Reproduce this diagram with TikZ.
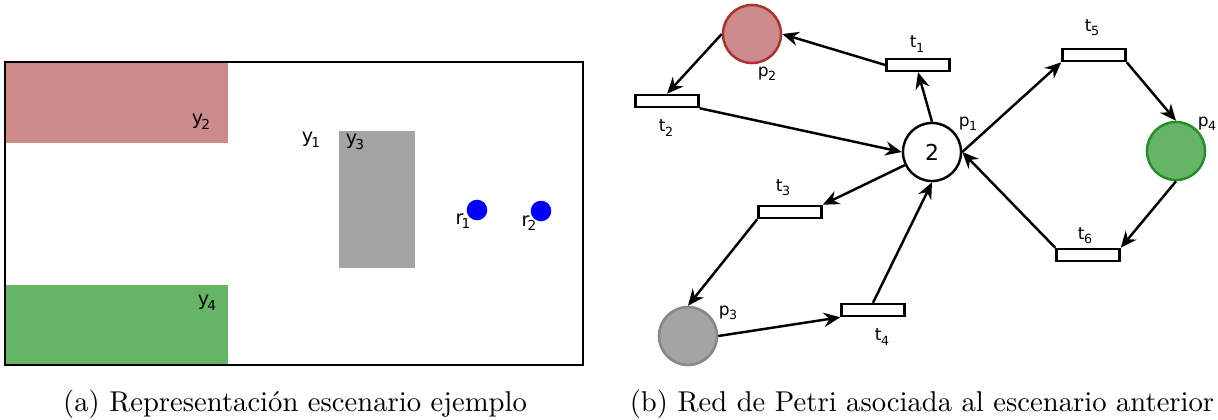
\documentclass[tikz,border=0pt]{standalone}
\usepackage{fontspec}
\newfontfamily\lblfont{DejaVu Sans}
\usetikzlibrary{arrows.meta}
\definecolor{pinkf}{RGB}{204,138,138}
\definecolor{pinkd}{RGB}{170,50,50}
\definecolor{greenf}{RGB}{102,180,102}
\definecolor{greend}{RGB}{40,140,40}
\definecolor{grayf}{RGB}{164,164,164}
\definecolor{grayd}{RGB}{136,136,136}
\definecolor{bluef}{RGB}{0,0,255}
\newcommand\sublbl[2]{{\lblfont\fontsize{6.2}{7}\selectfont #1\kern-0.2pt\raisebox{-0.45ex}{\fontsize{4.6}{5}\selectfont #2}}}
\newcommand\ylbl[2]{{\lblfont\fontsize{7}{8}\selectfont #1\kern-0.7pt\raisebox{-0.45ex}{\fontsize{5}{6}\selectfont #2}}}
\begin{document}
\begin{tikzpicture}[x=0.365pt,y=-0.365pt,
  trans/.style={draw, line width=0.9pt, fill=white, rectangle, minimum width=23pt, minimum height=4.4pt, inner sep=0pt},
  place/.style={circle, draw, line width=0.9pt, minimum size=21.2pt, inner sep=0pt},
  arc/.style={-{Stealth[length=6pt,width=5.2pt,inset=2pt]}, line width=0.9pt},
  lbl/.style={inner sep=0pt},
  captext/.style={anchor=base, inner sep=0pt, font=\fontsize{10.45}{12}\selectfont}]
\useasboundingbox (0,0) rectangle (1218,419);
% left panel
\fill[pinkf] (5,62) rectangle (228,143);
\fill[greenf] (5,285) rectangle (228,365);
\fill[grayf] (339,131) rectangle (415,268);
\draw[line width=0.8pt] (5,62) rectangle (583,365);
\fill[bluef] (477,210) circle[radius=3.75pt];
\fill[bluef] (541,211) circle[radius=3.75pt];
\node[lbl] (y2) at (201,122) {\ylbl{y}{2}};
\node[lbl] (y1) at (311,140) {\ylbl{y}{1}};
\node[lbl] (y3) at (355,142) {\ylbl{y}{3}};
\node[lbl] (y4) at (207,303) {\ylbl{y}{4}};
\node[lbl] (r1) at (463,221) {\ylbl{r}{1}};
\node[lbl] (r2) at (529,223) {\ylbl{r}{2}};
\node[captext] (capa) at (295,411) {(a) Representación escenario ejemplo};
% right panel
\node[place, fill=pinkf, draw=pinkd] (p2) at (752,34) {};
\node[place, fill=white] (p1) at (932,152) {\lblfont\fontsize{8}{9}\selectfont 2};
\node[place, fill=greenf, draw=greend] (p4) at (1176,151) {};
\node[place, fill=grayf, draw=grayd] (p3) at (688,336) {};
\node[trans] (t1) at (918,65) {};
\node[trans] (t2) at (667,101) {};
\node[trans] (t5) at (1094,55) {};
\node[trans] (t3) at (790,212) {};
\node[trans] (t6) at (1088,255) {};
\node[trans] (t4) at (873,310) {};
\node[lbl] (lt1) at (917,44) {\sublbl{t}{1}};
\node[lbl] (lt2) at (666,128) {\sublbl{t}{2}};
\node[lbl] (lt5) at (1092,28) {\sublbl{t}{5}};
\node[lbl] (lt3) at (783,188) {\sublbl{t}{3}};
\node[lbl] (lt6) at (1085,236) {\sublbl{t}{6}};
\node[lbl] (lt4) at (882,337) {\sublbl{t}{4}};
\node[lbl] (lp1) at (968,124) {\sublbl{p}{1}};
\node[lbl] (lp2) at (767,74) {\sublbl{p}{2}};
\node[lbl] (lp3) at (728,313) {\sublbl{p}{3}};
\node[lbl] (lp4) at (1207,124) {\sublbl{p}{4}};
\draw[arc] (t1.west) -- (p2.east);
\draw[arc] (p2.west) -- (t2.north);
\draw[arc] (t2.south east) -- (p1.west);
\draw[arc] (p1.north) -- (t1.south);
\draw[arc] (p1.east) -- (t5.south west);
\draw[arc] (t5.south east) -- (p4.north);
\draw[arc] (p4.south) -- (t6.north east);
\draw[arc] (t6.north west) -- (p1.east);
\draw[arc] (p1) -- (t3.north east);
\draw[arc] (t3.south west) -- (p3.north);
\draw[arc] (p3.east) -- (t4.south west);
\draw[arc] (t4.north) -- (p1.south);
\node[captext] (capb) at (922,411) {(b) Red de Petri asociada al escenario anterior};
\end{tikzpicture}
\end{document}
